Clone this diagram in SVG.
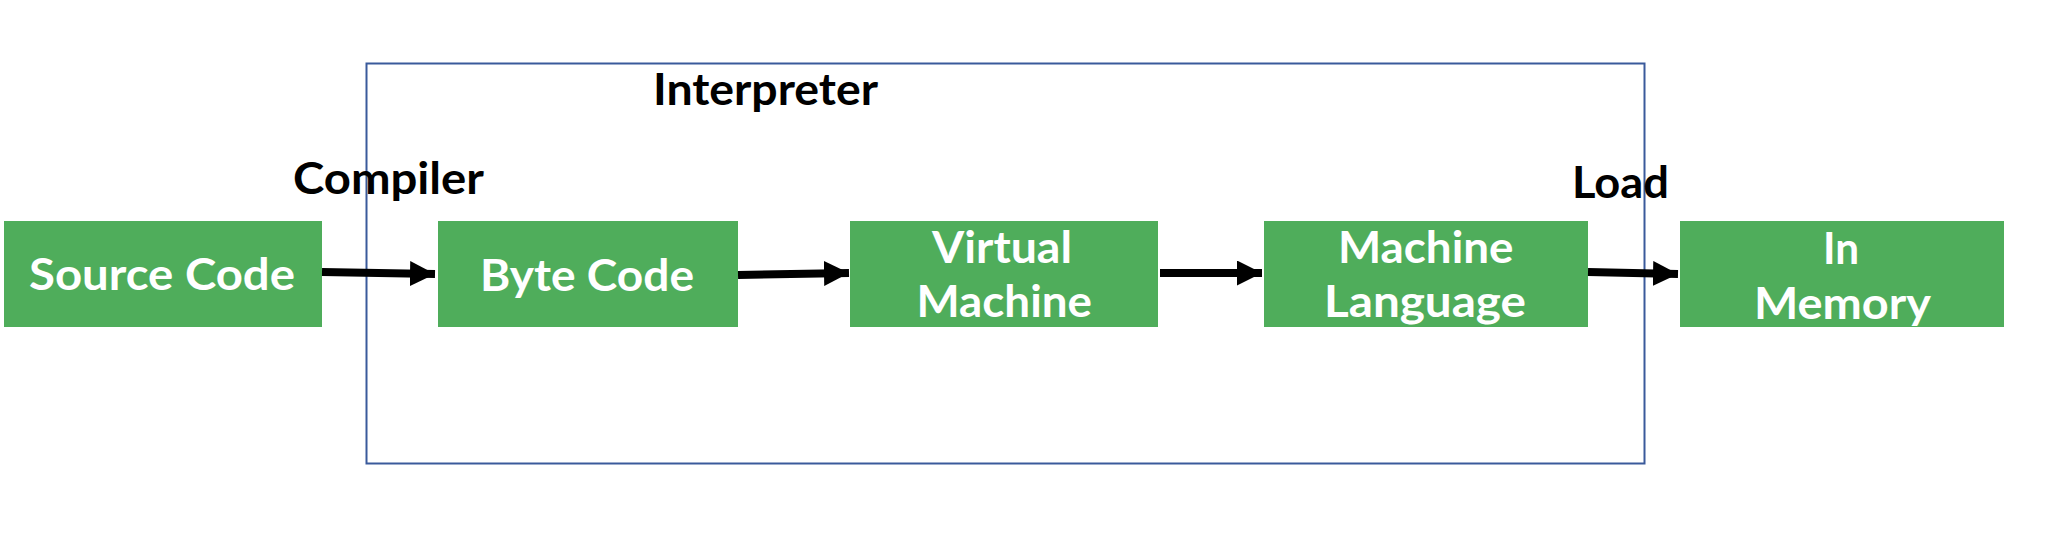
<svg xmlns="http://www.w3.org/2000/svg" width="2054" height="551" viewBox="0 0 2054 551">
<style>
.node{fill:#4FAD5B}
.nt{font-family:Lato,"Liberation Sans",Arial,sans-serif;font-weight:bold;font-size:44px;fill:#FFFFFF}
.lbl{font-family:Lato,"Liberation Sans",Arial,sans-serif;font-weight:bold;font-size:44px;fill:#000000}
.conn{stroke:#000000;stroke-width:8;fill:none}
</style>
<defs>
<marker id="ah" markerUnits="userSpaceOnUse" markerWidth="30" markerHeight="30" refX="25" refY="12.5" orient="auto">
<path d="M0,0 L25,12.5 L0,25 Z" fill="#000000"/>
</marker>
</defs>
<rect width="2054" height="551" fill="#FFFFFF"/>
<g id="interpreter">
<rect x="366.5" y="63.5" width="1278" height="400" fill="none" stroke="#3A5A9B" stroke-width="2"/>
<text class="lbl" x="653" y="105" textLength="225" lengthAdjust="spacingAndGlyphs">Interpreter</text>
</g>
<g id="source-code">
<rect class="node" x="4" y="221" width="318" height="106"/>
<text class="nt" x="29" y="290" textLength="266" lengthAdjust="spacingAndGlyphs">Source Code</text>
</g>
<g id="byte-code">
<rect class="node" x="438" y="221" width="300" height="106"/>
<text class="nt" x="480" y="291" textLength="214" lengthAdjust="spacingAndGlyphs">Byte Code</text>
</g>
<g id="virtual-machine">
<rect class="node" x="850" y="221" width="308" height="106"/>
<text class="nt" x="932" y="263" textLength="140" lengthAdjust="spacingAndGlyphs">Virtual</text>
<text class="nt" x="916.5" y="317" textLength="175.5" lengthAdjust="spacingAndGlyphs">Machine</text>
</g>
<g id="machine-language">
<rect class="node" x="1264" y="221" width="324" height="106"/>
<text class="nt" x="1338" y="263" textLength="175.5" lengthAdjust="spacingAndGlyphs">Machine</text>
<text class="nt" x="1324" y="317" textLength="202" lengthAdjust="spacingAndGlyphs">Language</text>
</g>
<g id="in-memory">
<rect class="node" x="1680" y="221" width="324" height="106"/>
<text class="nt" x="1823" y="264" textLength="36" lengthAdjust="spacingAndGlyphs">In</text>
<text class="nt" x="1754" y="319" textLength="177" lengthAdjust="spacingAndGlyphs">Memory</text>
</g>
<g id="connectors">
<line class="conn" x1="322" y1="272" x2="435" y2="274" marker-end="url(#ah)"/>
<line class="conn" x1="738" y1="275" x2="849" y2="273" marker-end="url(#ah)"/>
<line class="conn" x1="1160" y1="273" x2="1262" y2="273" marker-end="url(#ah)"/>
<line class="conn" x1="1588" y1="272" x2="1678" y2="274" marker-end="url(#ah)"/>
<text class="lbl" x="293" y="194" textLength="191" lengthAdjust="spacingAndGlyphs">Compiler</text>
<text class="lbl" x="1572" y="198" textLength="97" lengthAdjust="spacingAndGlyphs">Load</text>
</g>
</svg>
